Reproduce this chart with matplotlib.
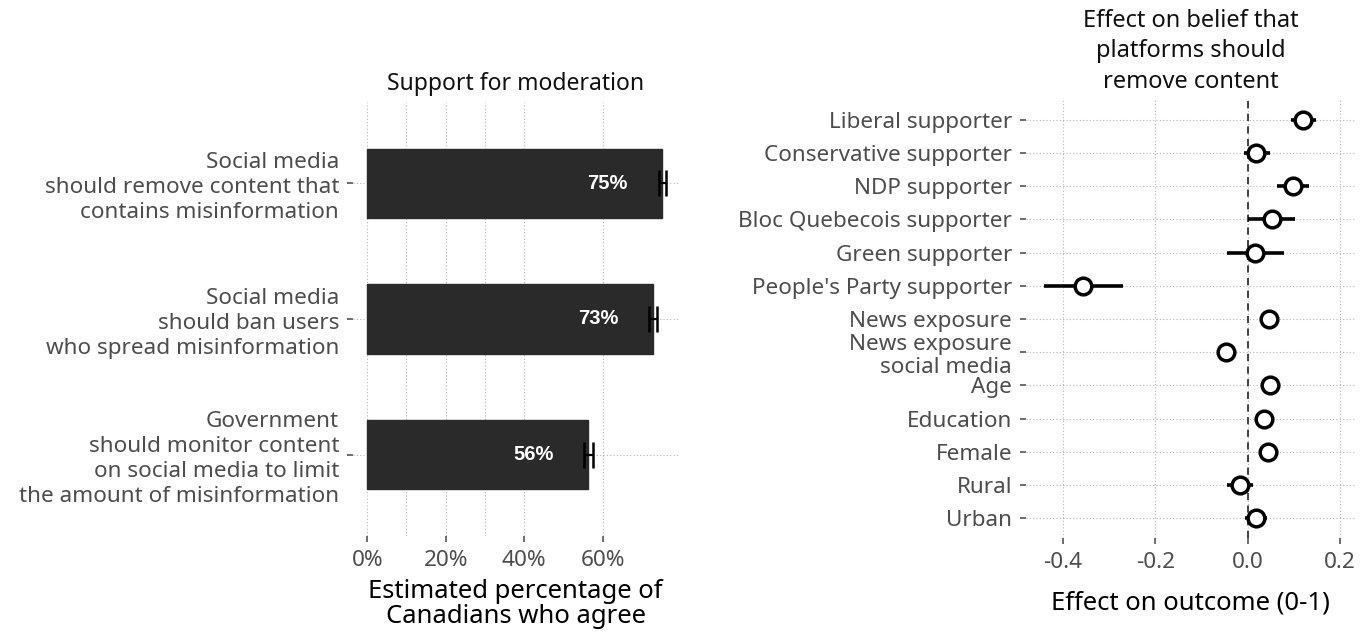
import matplotlib
matplotlib.use("Agg")
import matplotlib.pyplot as plt
import numpy as np

plt.rcParams['font.family'] = ['Noto Sans', 'DejaVu Sans']

# ---------------- data ----------------
moderation_items = [
    "Social media\nshould remove content that\ncontains misinformation",
    "Social media\nshould ban users\nwho spread misinformation",
    "Government\nshould monitor content\non social media to limit\nthe amount of misinformation",
]
support = [0.751, 0.728, 0.563]
support_err = [0.009, 0.009, 0.012]
support_ticks = [0.0, 0.2, 0.4, 0.6]
support_ticklabels = ["0%", "20%", "40%", "60%"]
support_minor = [0.1, 0.3]

predictors = [
    "Liberal supporter",
    "Conservative supporter",
    "NDP supporter",
    "Bloc Quebecois supporter",
    "Green supporter",
    "People's Party supporter",
    "News exposure",
    "News exposure\nsocial media",
    "Age",
    "Education",
    "Female",
    "Rural",
    "Urban",
]
effect = [0.119, 0.019, 0.097, 0.053, 0.016, -0.357, 0.047, -0.047, 0.048, 0.036, 0.044, -0.017, 0.018]
effect_low = [0.093, -0.008, 0.063, 0.001, -0.044, -0.440, 0.040, -0.054, 0.041, 0.029, 0.037, -0.044, -0.005]
effect_high = [0.147, 0.048, 0.132, 0.103, 0.078, -0.270, 0.054, -0.040, 0.055, 0.043, 0.051, 0.012, 0.041]
effect_ticks = [-0.4, -0.2, 0.0, 0.2]
effect_ticklabels = ["-0.4", "-0.2", "0.0", "0.2"]

# ---------------- figure ----------------
W, H = 1368, 632
fig = plt.figure(figsize=(W / 100, H / 100), dpi=100)

def px_axes(x0, y0, x1, y1):
    return fig.add_axes([x0 / W, 1 - y1 / H, (x1 - x0) / W, (y1 - y0) / H])

grid_kw = dict(color="#b5b5b5", linestyle=(0, (1, 2)), linewidth=0.8)
tick_color = "#4d4d4d"
label_fs = 16.2
title_fs = 16.5

# ---- left panel ----
ax1 = px_axes(353, 102, 678, 536)
ypos = np.arange(len(moderation_items))
ax1.set_axisbelow(True)
ax1.barh(ypos, support, height=0.51, color="#2a2a2a", edgecolor="#2a2a2a", zorder=2)
ax1.errorbar(support, ypos, xerr=support_err, fmt="none", ecolor="black",
             elinewidth=1.6, capsize=9.5, capthick=1.8, zorder=3)
for y, v in zip(ypos, support):
    ax1.text(v - 0.14, y, f"{round(v * 100)}%", color="white", fontsize=14.5,
             fontweight="bold", family=["Liberation Sans", "DejaVu Sans"],
             ha="center", va="center", zorder=4)
ax1.set_xlim(-0.0362, 0.7916)
ax1.set_ylim(len(moderation_items) - 0.4, -0.6)
ax1.set_yticks(ypos)
ax1.set_yticklabels(moderation_items, fontsize=label_fs, color=tick_color, linespacing=1.25)
ax1.set_xticks(support_ticks)
ax1.set_xticklabels(support_ticklabels, fontsize=label_fs, color=tick_color)
ax1.set_xticks(support_minor, minor=True)
ax1.tick_params(axis="x", which="minor", length=0)
ax1.grid(True, which="both", **grid_kw)
ax1.set_title("Support for moderation", fontsize=title_fs, pad=9, color="#111111")
ax1.set_xlabel("Estimated percentage of\nCanadians who agree", fontsize=18.5,
               labelpad=6, linespacing=1.0)

# ---- right panel ----
ax2 = px_axes(1026, 100, 1355, 538)
rows = np.arange(len(predictors))
ax2.set_axisbelow(True)
ax2.axvline(0, color="#333333", linestyle=(0, (4, 3)), linewidth=1.3, zorder=2)
ax2.hlines(rows, effect_low, effect_high, color="black", linewidth=2.6, zorder=3)
ax2.plot(effect, rows, "o", markersize=12, markerfacecolor="white",
         markeredgecolor="black", markeredgewidth=2.5, linestyle="none", zorder=4)
ax2.set_xlim(-0.4794, 0.232)
ax2.set_ylim(len(predictors) - 0.4, -0.6)
ax2.set_yticks(rows)
ax2.set_yticklabels(predictors, fontsize=label_fs, color=tick_color, linespacing=1.15)
ax2.set_xticks(effect_ticks)
ax2.set_xticklabels(effect_ticklabels, fontsize=label_fs, color=tick_color)
ax2.grid(True, which="major", **grid_kw)
ax2.set_title("Effect on belief that\nplatforms should\nremove content", fontsize=17,
              pad=9, color="#111111", linespacing=1.35)
ax2.set_xlabel("Effect on outcome (0-1)", fontsize=18.5, labelpad=13)

for ax in (ax1, ax2):
    for s in ax.spines.values():
        s.set_visible(False)
    ax.tick_params(axis="both", which="major", length=4, width=1.2,
                   color="#555555", pad=6)

fig.savefig("out.png", dpi=100)
